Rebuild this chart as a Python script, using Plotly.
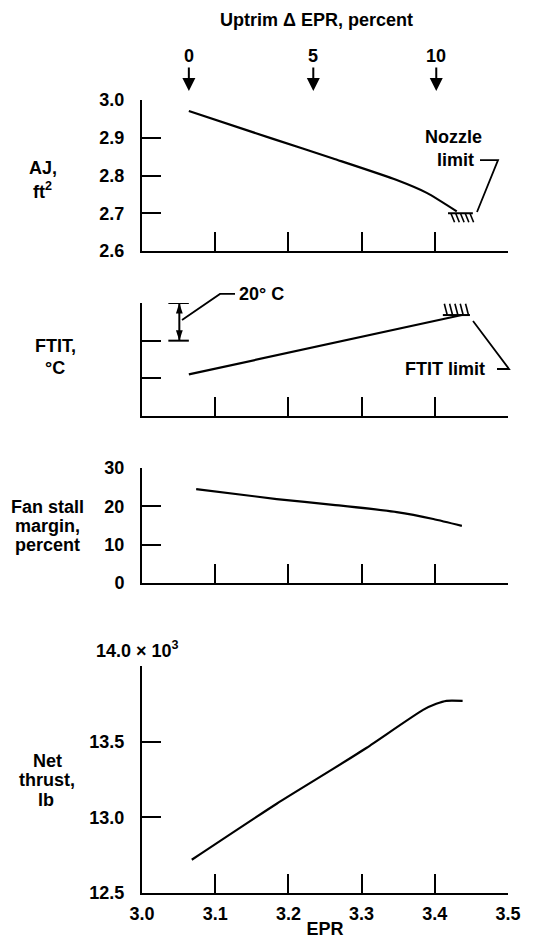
import plotly.graph_objects as go

# ---------------- data ----------------
uptrim_pct = [0, 5, 10]
uptrim_epr = [3.064, 3.234, 3.402]

epr_aj = [3.064, 3.179, 3.261, 3.348, 3.389, 3.430]
aj_ft2 = [2.971, 2.897, 2.845, 2.788, 2.754, 2.705]

epr_ftit = [3.064, 3.179, 3.261, 3.437]
ftit_rel = [22.1, 31.8, 39.0, 53.6]          # relative scale, 20 deg C per tick

epr_fan = [3.074, 3.184, 3.261, 3.348, 3.398, 3.437]
fan_margin = [24.5, 21.9, 20.4, 18.5, 16.7, 14.9]

epr_thrust = [3.068, 3.184, 3.261, 3.307, 3.384, 3.402, 3.416, 3.438]
thrust_klb = [12.72, 13.09, 13.32, 13.46, 13.71, 13.75, 13.77, 13.77]

epr_ticks = [3.0, 3.1, 3.2, 3.3, 3.4, 3.5]
aj_ticks = [2.6, 2.7, 2.8, 2.9, 3.0]
ftit_ticks = [20, 40, 60]
fan_ticks = [0, 10, 20, 30]
thrust_ticks = [12.5, 13.0, 13.5]
thrust_top_tick = [14.0]

nozzle_limit = 2.70
nozzle_limit_epr = [3.418, 3.452]
ftit_limit = 53.6
ftit_limit_epr = [3.411, 3.448]
scale_bar_epr = 3.051
scale_bar_vals = [40, 60]

# ---------------- layout helpers ----------------
W, H = 545, 946
OFF = 8                      # page body margin of the written html
L, R, T, B = 142 - OFF, 545 - (508 - OFF), 100 - OFF, 946 - (893 - OFF)
PW, PH = W - L - R, H - T - B


def px(xp, yp):
    """page pixel -> paper coordinates"""
    return (xp - OFF - L) / PW, (H - B - (yp - OFF)) / PH


def dom(ytop, ybot):
    return [px(0, ybot)[1], px(0, ytop)[1]]


FONT = dict(family="Liberation Sans, Arial, Helvetica, sans-serif", size=18, color="black", weight="bold")
LW = 2

fig = go.Figure()
line = dict(color="black", width=2.2)
fig.add_trace(go.Scatter(x=epr_aj, y=aj_ft2, mode="lines", line=dict(line, shape="spline", smoothing=0.6), xaxis="x", yaxis="y"))
fig.add_trace(go.Scatter(x=epr_ftit, y=ftit_rel, mode="lines", line=line, xaxis="x2", yaxis="y2"))
fig.add_trace(go.Scatter(x=epr_fan, y=fan_margin, mode="lines", line=dict(line, shape="spline", smoothing=0.6), xaxis="x3", yaxis="y3"))
fig.add_trace(go.Scatter(x=epr_thrust, y=thrust_klb, mode="lines", line=dict(line, shape="spline", smoothing=0.6), xaxis="x4", yaxis="y4"))

# 20 deg C scale bar: double-headed arrow
fig.add_trace(go.Scatter(x=[scale_bar_epr] * 2, y=scale_bar_vals, mode="lines+markers",
                         line=dict(color="black", width=2),
                         marker=dict(symbol="arrow", size=11, angle=[180, 0], color="black"),
                         xaxis="x2", yaxis="y2", cliponaxis=False, hoverinfo="skip"))

domains = [dom(100, 251), dom(303, 416), dom(468, 583), dom(666, 893)]


def xax(i, labels):
    return dict(domain=[0, 1], range=[3.0, 3.5], anchor="y" if i == 1 else f"y{i}",
                showline=True, linecolor="black", linewidth=LW, showgrid=False, zeroline=False,
                ticks="inside", ticklen=19, tickwidth=LW, tickcolor="black",
                tickvals=epr_ticks, ticktext=[f"{v:.1f}" for v in epr_ticks],
                showticklabels=labels, tickfont=FONT, ticklabelstandoff=3)


def yax(i, rng, vals, labels=True, minor_vals=None):
    d = dict(domain=domains[i - 1], range=rng, anchor="x" if i == 1 else f"x{i}",
             showline=True, linecolor="black", linewidth=LW, showgrid=False, zeroline=False,
             ticks="inside", ticklen=19, tickwidth=LW, tickcolor="black",
             tickvals=vals, ticktext=[f"{v:.1f}" if isinstance(v, float) else str(v) for v in vals],
             showticklabels=labels, tickfont=FONT, ticklabelstandoff=12)
    if minor_vals:
        d["minor"] = dict(tickmode="array", tickvals=minor_vals, ticks="inside", ticklen=19,
                          tickwidth=LW, tickcolor="black", showgrid=False)
    return d


fig.update_layout(
    width=W, height=H, margin=dict(l=L, r=R, t=T, b=B),
    paper_bgcolor="white", plot_bgcolor="white", showlegend=False,
    xaxis=xax(1, False), xaxis2=xax(2, False), xaxis3=xax(3, False), xaxis4=xax(4, True),
    yaxis=yax(1, [2.6, 3.0], aj_ticks),
    yaxis2=yax(2, [0, 60], ftit_ticks, False),
    yaxis3=yax(3, [0, 30], fan_ticks),
    yaxis4=yax(4, [12.5, 14.0], thrust_ticks, True, thrust_top_tick),
)
fig.update_layout(xaxis4_title=dict(text="EPR", font=FONT, standoff=0))

ann = []


def text(t, xp, yp, xanchor="center"):
    x, y = px(xp, yp)
    ann.append(dict(text=t, x=x, y=y, xref="paper", yref="paper", xanchor=xanchor, yanchor="middle",
                    showarrow=False, font=FONT))


text("Uptrim \u0394 EPR, percent", 316, 20)
for p, e in zip(uptrim_pct, uptrim_epr):
    ann.append(dict(text=str(p), x=e, y=px(0, 91)[1], xref="x", yref="paper", showarrow=True,
                    ax=0, ay=-35, arrowhead=2, arrowsize=1.3, arrowwidth=2, arrowcolor="black",
                    standoff=0, font=FONT))

# axis captions
for t, xp, yp in [("AJ,", 43, 168), ("ft<sup>2</sup>", 43, 190),
                  ("FTIT,", 55, 346), ("\u00b0C", 55, 368),
                  ("Fan stall", 47, 507), ("margin,", 47, 526), ("percent", 47, 545),
                  ("Net", 47, 761), ("thrust,", 47, 780), ("lb", 46, 800)]:
    text(t, xp, yp)

text("14.0 \u00d7 10<sup>3</sup>", 94, 649, xanchor="left")
text("Nozzle", 453, 137)
text("limit", 455, 160)
text("FTIT limit", 445, 369)
text("20\u00b0 C", 261, 294)
fig.update_layout(annotations=ann)

shapes = []
for v in scale_bar_vals:
    shapes.append(dict(type="line", xref="x2", yref="y2", x0=scale_bar_epr - 0.015, x1=scale_bar_epr + 0.013,
                       y0=v, y1=v, line=dict(color="black", width=2)))

# nozzle limit hatch (below the line)
shapes.append(dict(type="line", xref="x", yref="y", x0=nozzle_limit_epr[0], x1=nozzle_limit_epr[1],
                   y0=nozzle_limit, y1=nozzle_limit, line=dict(color="black", width=2)))
n = 5
for k in range(n):
    x0 = nozzle_limit_epr[0] + 0.004 + k * (nozzle_limit_epr[1] - nozzle_limit_epr[0] - 0.008) / (n - 1)
    shapes.append(dict(type="line", xref="x", yref="y", x0=x0, x1=x0 + 0.005, y0=nozzle_limit,
                       y1=nozzle_limit - 0.024, line=dict(color="black", width=1.6)))
# FTIT limit hatch (above the line)
shapes.append(dict(type="line", xref="x2", yref="y2", x0=ftit_limit_epr[0], x1=ftit_limit_epr[1],
                   y0=ftit_limit, y1=ftit_limit, line=dict(color="black", width=2)))
for k in range(n):
    x0 = ftit_limit_epr[0] + 0.006 + k * (ftit_limit_epr[1] - ftit_limit_epr[0] - 0.008) / (n - 1)
    shapes.append(dict(type="line", xref="x2", yref="y2", x0=x0, x1=x0 - 0.004, y0=ftit_limit,
                       y1=ftit_limit + 6.0, line=dict(color="black", width=1.6)))


def leader(points):
    pts = [px(a, b) for a, b in points]
    path = "M " + " L ".join(f"{x:.4f},{y:.4f}" for x, y in pts)
    shapes.append(dict(type="path", xref="paper", yref="paper", path=path,
                       line=dict(color="black", width=1.8)))


leader([(182, 320), (220, 294), (235, 294)])
leader([(480, 160), (498, 160), (477, 212)])
leader([(497, 369), (509, 369), (473, 321)])
fig.update_layout(shapes=shapes)

fig.write_html("out.html")
